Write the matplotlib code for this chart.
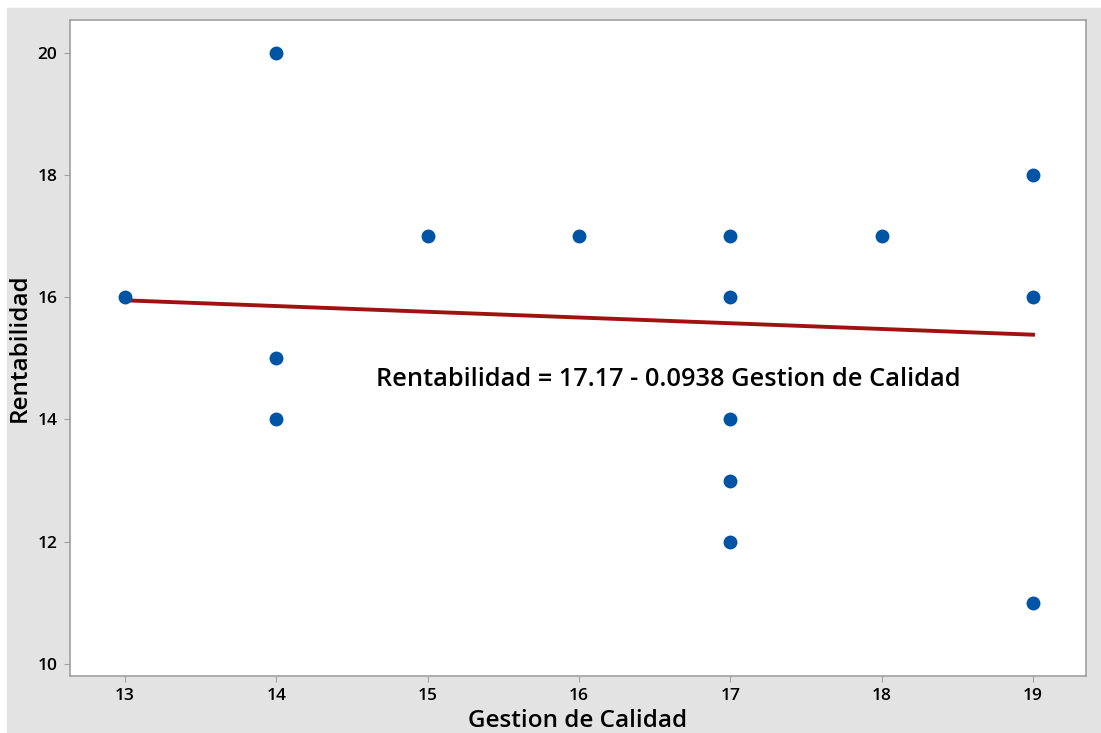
import matplotlib.pyplot as plt
from matplotlib.patches import Rectangle
import numpy as np

plt.rcParams['font.family'] = ['Open Sans', 'DejaVu Sans']

gestion = [13, 14, 14, 14, 15, 16, 17, 17, 17, 17, 17, 18, 19, 19, 19]
rentab = [16, 20, 15, 14, 17, 17, 17, 16, 14, 13, 12, 17, 18, 16, 11]
b0, b1 = 17.17, -0.0938
xticks = [13, 14, 15, 16, 17, 18, 19]
yticks = [10, 12, 14, 16, 18, 20]

fig = plt.figure(figsize=(11.01, 7.33), dpi=100)
fig.patches.append(Rectangle((7 / 1101, 0), 1 - 7 / 1101, 1 - 8 / 733,
                             transform=fig.transFigure, color='#e3e3e3', zorder=-1))
ax = fig.add_axes([70 / 1101, 1 - 676 / 733, (1086 - 70) / 1101, (676 - 20) / 733])
ax.set_facecolor('white')

# fitted line and observations
xs = np.linspace(13, 19, 50)
ax.plot(xs, b0 + b1 * xs, color='#a01212', lw=2.8, zorder=2)
ax.scatter(gestion, rentab, s=100, color='#0054a6', zorder=3, linewidths=0)

ax.text(16.59, 14.65, 'Rentabilidad = 17.17 - 0.0938 Gestion de Calidad',
        ha='center', va='center', fontsize=18.3, fontweight='semibold')

ax.set_xlim(12.637, 19.35)
ax.set_ylim(9.80, 20.54)
ax.set_xticks(xticks)
ax.set_yticks(yticks)
ax.tick_params(length=4, color='#a0a0a0', labelsize=12.5, pad=5)
for lbl in ax.get_xticklabels() + ax.get_yticklabels():
    lbl.set_fontweight('semibold')
for s in ax.spines.values():
    s.set_color('#a0a0a0')
    s.set_linewidth(1.2)
ax.set_xlabel('Gestion de Calidad', fontsize=17.5, fontweight='semibold', labelpad=3)
ax.set_ylabel('Rentabilidad', fontsize=17.5, fontweight='semibold', labelpad=4)

fig.savefig('out.png', dpi=100)
